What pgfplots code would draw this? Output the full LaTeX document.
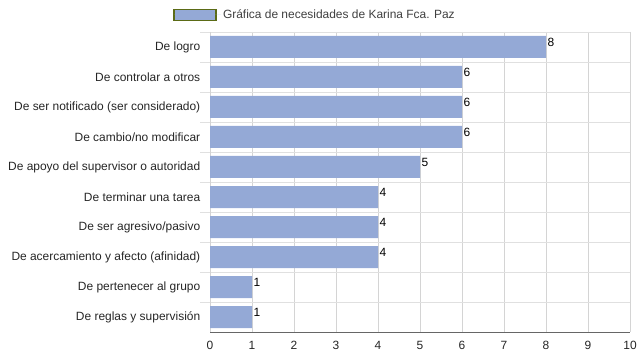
\documentclass[border=0pt]{standalone}
\usepackage{pgfplots}
\pgfplotsset{compat=1.18}
\usepackage{fontspec}
\setmainfont{Liberation Sans}
\definecolor{barc}{HTML}{94A9D6}
\definecolor{legbord}{HTML}{5B6B16}
\definecolor{gridc}{HTML}{D4D4D4}
\definecolor{hgridc}{HTML}{E0E0E0}
\begin{document}
\begin{tikzpicture}[x=1bp,y=1bp]
\useasboundingbox (0,0) rectangle (639,360);
\begin{axis}[
  at={(210bp,28bp)}, anchor=south west,
  scale only axis, width=420bp, height=300bp,
  xbar, bar width=22bp,
  xmin=0, xmax=10, xtick={0,...,10},
  ymin=-0.5, ymax=9.5, y dir=reverse,
  ytick={0,...,9},
  yticklabels={De logro, De controlar a otros, De ser notificado (ser considerado), De cambio/no modificar, De apoyo del supervisor o autoridad, De terminar una tarea, De ser agresivo/pasivo, De acercamiento y afecto (afinidad), De pertenecer al grupo, De reglas y supervisión},
  minor ytick={-0.5,0.5,...,8.5},
  ymajorgrids=false, yminorgrids=true,
  xmajorgrids=true,
  major grid style={gridc, line width=1pt},
  minor grid style={hgridc, line width=0.8pt},
  major y tick style={draw=none},
  minor y tick style={hgridc, line width=0.8pt},
  minor tick length=10bp,
  tick align=outside,
  major x tick style={draw=none},
  axis x line*=bottom, axis y line*=left,
  x axis line style={draw=black!60, line width=0.8pt, -},
  y axis line style={draw=gridc, line width=0.8pt, -},
  tick label style={font=\fontsize{12}{14}\selectfont, text=black!85},
  /pgf/number format/assume math mode=true,
  yticklabel style={xshift=-2bp},
  xticklabel style={yshift=-1bp},
  nodes near coords,
  every node near coord/.append style={font=\fontsize{12}{14}\selectfont, anchor=west, xshift=-2bp, yshift=5bp, text=black},
  legend style={at={(0.25,1.057)}, anchor=center, draw=none, font=\fontsize{12}{14}\selectfont, text=black!75, legend cell align=left, inner sep=0pt},
  legend image code/.code={\draw[fill=barc, draw=legbord, line width=1.5bp] (0bp,-5.5bp) rectangle (42bp,5.5bp); \path (0bp,0bp) -- (47bp,0bp);},
]
\addplot[fill=barc, draw=none] coordinates {
(8,0) (6,1) (6,2) (6,3) (5,4) (4,5) (4,6) (4,7) (1,8) (1,9)};
\addlegendentry{Gráfica de necesidades de Karina Fca. Paz}
\end{axis}
\end{tikzpicture}
\end{document}
